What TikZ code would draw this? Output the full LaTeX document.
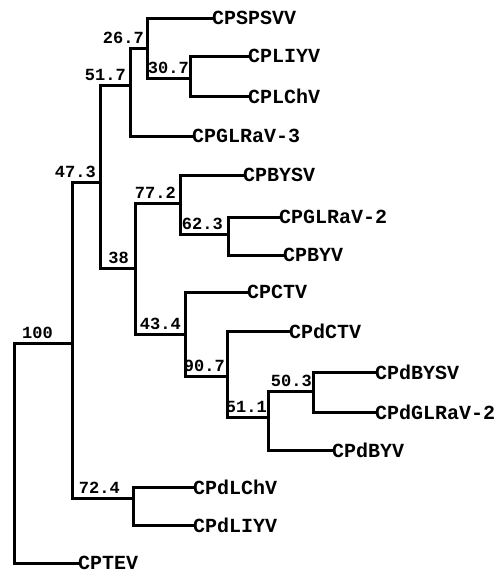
\documentclass[tikz,border=0pt]{standalone}
\usepackage{fontspec}
\newfontfamily\treefont{Liberation Mono}
\usetikzlibrary{calc}

\begin{document}
\begin{tikzpicture}[
  x=1pt, y=-1pt,
  branch/.style={line width=3pt, line cap=rect, line join=miter, draw=black},
  taxon/.style={anchor=west, inner sep=1pt, text=black,
                font=\treefont\bfseries\fontsize{20}{20}\selectfont},
  boot/.style={anchor=south east, inner sep=0pt, text=black,
               font=\treefont\bfseries\fontsize{17}{17}\selectfont}
]
\useasboundingbox (0,0) rectangle (500,574);

% internal nodes
\coordinate (nR) at (14,343);
\coordinate (nA) at (72,343);
\coordinate (nB) at (100,182);
\coordinate (nC) at (130,85);
\coordinate (nD) at (147,48);
\coordinate (nE) at (190,78);
\coordinate (nF) at (135,268);
\coordinate (nG) at (180,203);
\coordinate (nH) at (228,234);
\coordinate (nI) at (185,334);
\coordinate (nJ) at (227,376);
\coordinate (nK) at (268,417);
\coordinate (nL) at (313,391);
\coordinate (nM) at (133,498);

% taxa
\node[taxon] (spsvv)  at (211,18)  {CPSPSVV};
\node[taxon] (liyv)   at (247,56)  {CPLIYV};
\node[taxon] (lchv)   at (247,96)  {CPLChV};
\node[taxon] (glrav3) at (191,136) {CPGLRaV-3};
\node[taxon] (bysv)   at (242,175) {CPBYSV};
\node[taxon] (glrav2) at (278,217) {CPGLRaV-2};
\node[taxon] (byv)    at (282,255) {CPBYV};
\node[taxon] (ctv)    at (246,292) {CPCTV};
\node[taxon] (dctv)   at (288,331) {CPdCTV};
\node[taxon] (dbysv)  at (374,372) {CPdBYSV};
\node[taxon] (dglrav2) at (374,412) {CPdGLRaV-2};
\node[taxon] (dbyv)   at (331,450) {CPdBYV};
\node[taxon] (dlchv)  at (192,487) {CPdLChV};
\node[taxon] (dliyv)  at (192,525) {CPdLIYV};
\node[taxon] (tev)    at (77,563)  {CPTEV};

% branches
\draw[branch] (nR) |- (nA);
\draw[branch] (nR) |- (tev.west);
\draw[branch] (nA) |- (nB);
\draw[branch] (nA) |- (nM);
\draw[branch] (nB) |- (nC);
\draw[branch] (nB) |- (nF);
\draw[branch] (nC) |- (nD);
\draw[branch] (nC) |- (glrav3.west);
\draw[branch] (nD) |- (spsvv.west);
\draw[branch] (nD) |- (nE);
\draw[branch] (nE) |- (liyv.west);
\draw[branch] (nE) |- (lchv.west);
\draw[branch] (nF) |- (nG);
\draw[branch] (nF) |- (nI);
\draw[branch] (nG) |- (bysv.west);
\draw[branch] (nG) |- (nH);
\draw[branch] (nH) |- (glrav2.west);
\draw[branch] (nH) |- (byv.west);
\draw[branch] (nI) |- (ctv.west);
\draw[branch] (nI) |- (nJ);
\draw[branch] (nJ) |- (dctv.west);
\draw[branch] (nJ) |- (nK);
\draw[branch] (nK) |- (nL);
\draw[branch] (nK) |- (dbyv.west);
\draw[branch] (nL) |- (dbysv.west);
\draw[branch] (nL) |- (dglrav2.west);
\draw[branch] (nM) |- (dlchv.west);
\draw[branch] (nM) |- (dliyv.west);

% bootstrap values
\node[boot] (bA) at ($(nA)+(-19,-4)$) {100};
\node[boot] (bB) at ($(nB)+(-4,-4)$) {47.3};
\node[boot] (bC) at ($(nC)+(-4,-4)$) {51.7};
\node[boot] (bD) at ($(nD)+(-3,-4)$) {26.7};
\node[boot] (bE) at ($(nE)+(-1,-4)$) {30.7};
\node[boot] (bF) at ($(nF)+(-6,-4)$) {38};
\node[boot] (bG) at ($(nG)+(-4,-4)$) {77.2};
\node[boot] (bH) at ($(nH)+(-5,-4)$) {62.3};
\node[boot] (bI) at ($(nI)+(-4,-4)$) {43.4};
\node[boot] (bJ) at ($(nJ)+(-2,-4)$) {90.7};
\node[boot] (bK) at ($(nK)+(-1,-4)$) {51.1};
\node[boot] (bL) at ($(nL)+(-1,-4)$) {50.3};
\node[boot] (bM) at ($(nM)+(-13,-4)$) {72.4};

\end{tikzpicture}
\end{document}
